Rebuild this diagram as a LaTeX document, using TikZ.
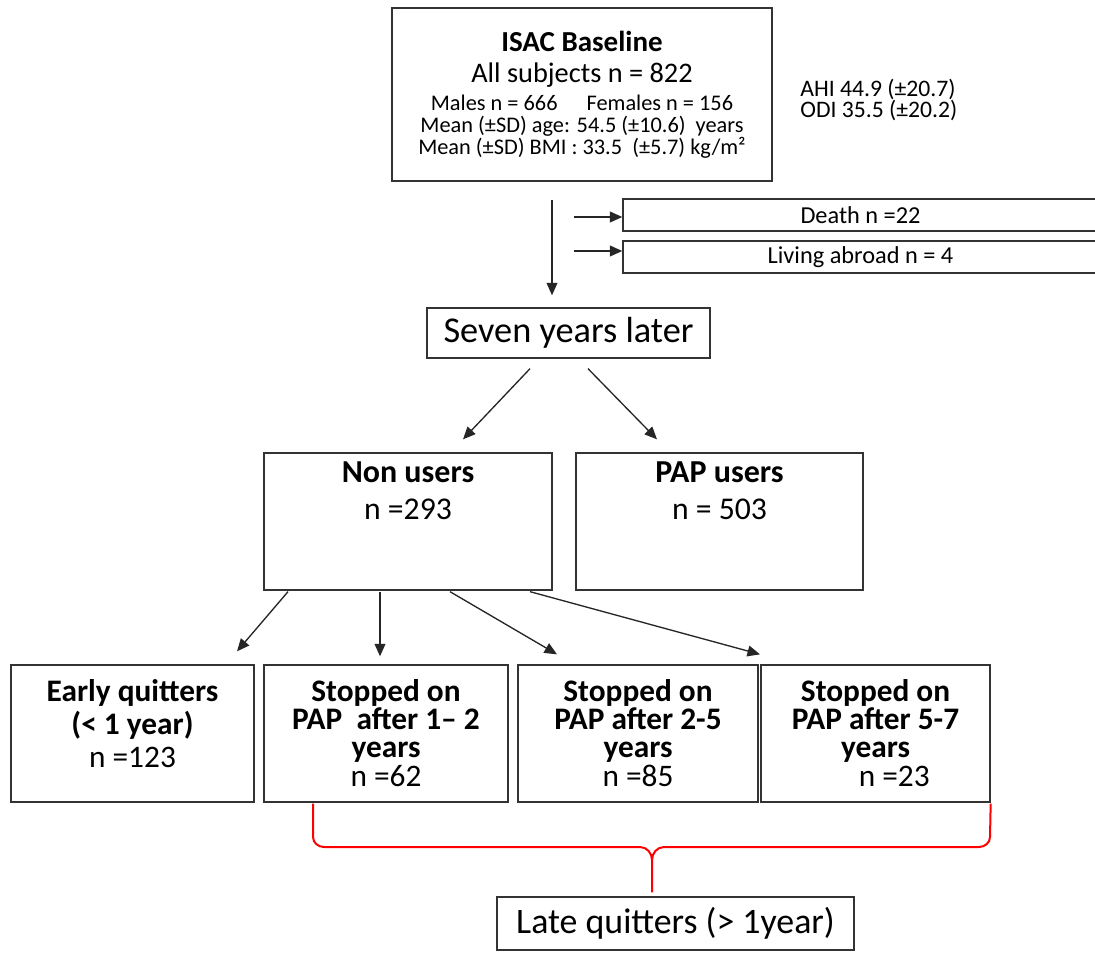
\documentclass[tikz,border=0pt]{standalone}
\usepackage{fontspec}
\setmainfont{Carlito}
\usetikzlibrary{arrows.meta,calc}

\newcommand{\px}{0.6pt}
\newcommand{\fs}[2]{\fontsize{#1}{#2}\selectfont}

\begin{document}
\begin{tikzpicture}[x=0.6pt, y=-0.6pt,
    caja/.style={draw=black!80, line width=0.8pt, align=center, inner sep=0pt},
    flecha/.style={-{Triangle[length=7.5pt,width=6.5pt]}, line width=0.8pt, black!85},
    llave/.style={red, line width=1.2pt}]
    \useasboundingbox (0,0) rectangle (1095,952);

    % Linea base
    \node[caja, minimum width=380*\px, minimum height=173*\px, font=\fs{13.4}{13.2}] (isac) at (582,94.5)
        {{\fs{17.4}{13.2}\bfseries ISAC Baseline}\\[5.4pt]
         {\fs{17}{13.2}All subjects n = 822}\\[3.6pt]
         Males n = 666\hspace{1.3em}Females n = 156\\
         Mean (±SD) age: 54.5 (±10.6)~ years\\
         Mean (±SD) BMI : 33.5~ (±5.7) kg/m²};
    \node[align=left, anchor=west, inner sep=0pt, font=\fs{14.2}{12.6}] (ahi) at (800,100)
        {AHI 44.9 (±20.7)\\ODI 35.5 (±20.2)};

    % Excluidos
    \node[caja, minimum width=475*\px, minimum height=32*\px, font=\fs{14.6}{16}] (death) at (860.5,215) {Death n =22};
    \node[caja, minimum width=475*\px, minimum height=32*\px, font=\fs{14.6}{16}] (abroad) at (860.5,257) {Living abroad n = 4};
    \draw[flecha] ($(death.west)+(-48,2)$) -- ($(death.west)+(0,2)$);
    \draw[flecha] ($(abroad.west)+(-48,-6)$) -- ($(abroad.west)+(0,-6)$);

    \node[caja, minimum width=283*\px, minimum height=50*\px, font=\fs{21.8}{24}] (seven) at (568.5,333) {Seven years later};
    \draw[flecha] ($(isac.south)+(-30,18)$) -- ($(seven.north)+(-16.5,-12)$);

    % Usuarios
    \node[caja, minimum width=288*\px, minimum height=137*\px] (non) at (408,521.5) {};
    \node[caja, minimum width=287*\px, minimum height=137*\px] (pap) at (719.5,521.5) {};
    \node[align=center, inner sep=0pt, font=\fs{19}{22.2}] (nonT) at ($(non.north)+(0,38)$)
        {{\fs{19.2}{22.2}\bfseries Non users}\\n =293};
    \node[align=center, inner sep=0pt, font=\fs{19}{22.2}] (papT) at ($(pap.north)+(0,38)$)
        {{\fs{19.2}{22.2}\bfseries PAP users}\\n = 503};
    \draw[flecha] ($(seven.south)+(-38.5,10)$) -- ($(non.north)+(55,-13)$);
    \draw[flecha] ($(seven.south)+(19.5,10)$) -- ($(pap.north)+(-62.5,-13)$);

    % Abandonos
    \node[caja, minimum width=243*\px, minimum height=137*\px, font=\fs{18.8}{20}\bfseries] (early) at (132.5,733.5) {};
    \node[align=center, inner sep=0pt, font=\fs{18.8}{20}\bfseries] (earlyT) at ($(early)+(0,-10)$)
        {Early quitters\\(< 1 year)\\{\mdseries n =123}};
    \node[caja, minimum width=244*\px, minimum height=137*\px, font=\fs{18.8}{16.8}\bfseries] (stopA) at (386,733.5)
        {Stopped on\\PAP~ after 1– 2\\years\\[0.6pt]{\mdseries n =62}};
    \node[caja, minimum width=240*\px, minimum height=137*\px, font=\fs{18.8}{16.8}\bfseries] (stopB) at (638,733.5)
        {Stopped on\\PAP after 2-5\\years\\[0.6pt]{\mdseries n =85}};
    \node[caja, minimum width=229*\px, minimum height=137*\px, font=\fs{18.8}{16.8}\bfseries] (stopC) at (875.5,733.5)
        {Stopped on\\PAP after 5-7\\years\\[0.6pt]{\mdseries\hspace*{1.2em}n =23}};
    \draw[flecha] ($(non.south)+(-120,1)$) -- ($(early.north)+(104.5,-13)$);
    \draw[flecha] ($(non.south)+(-28,1)$) -- ($(stopA.north)+(-6,-8)$);
    \draw[flecha] ($(non.south)+(42,1)$) -- ($(stopB.north)+(-81,-10)$);
    \draw[flecha] ($(non.south)+(122,1)$) -- ($(stopC.north)+(-115.5,-10)$);

    % Llave roja
    \node[caja, minimum width=357*\px, minimum height=53*\px, font=\fs{21.5}{24}] (late) at (675.5,923.5) {Late quitters (> 1year)};
    \draw[llave] ($(stopA.south)+(-73,1)$) -- (313,837) to[out=-90,in=180] (324,847) -- (640,847)
        to[out=0,in=90] (652,860) -- ($(late.north)+(-23.5,-4)$);
    \draw[llave] ($(stopC.south east)+(0,1)$) -- (990,837) to[out=-90,in=0] (979,847) -- (664,847)
        to[out=180,in=90] (652,860);
\end{tikzpicture}
\end{document}
